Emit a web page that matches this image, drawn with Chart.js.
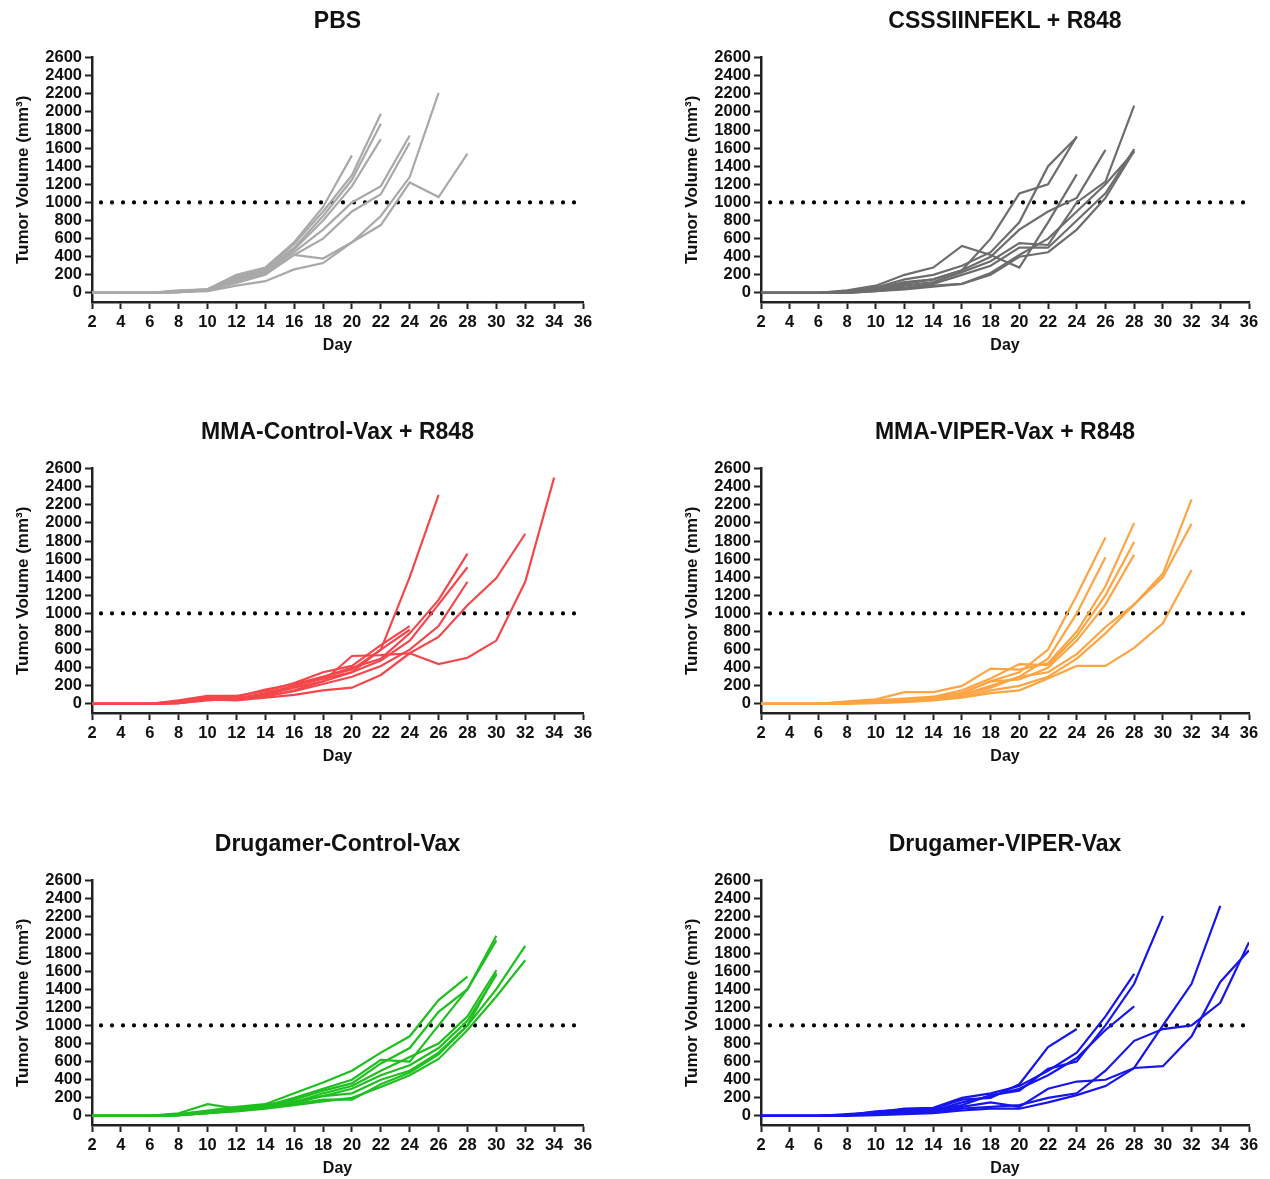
<!DOCTYPE html>
<html>
<head>
<meta charset="utf-8">
<script src="https://cdn.jsdelivr.net/npm/chart.js@4.4.1/dist/chart.umd.min.js"></script>
<style>
  html, body { margin: 0; padding: 0; background: #fff; width: 1270px; height: 1179px; overflow: hidden; }
  canvas { position: absolute; }
</style>
</head>
<body>
<canvas id="c0" width="600" height="356" style="left:0px;top:0px"></canvas>
<canvas id="c1" width="597" height="356" style="left:669px;top:0px"></canvas>
<canvas id="c2" width="600" height="356" style="left:0px;top:411px"></canvas>
<canvas id="c3" width="597" height="356" style="left:669px;top:411px"></canvas>
<canvas id="c4" width="600" height="356" style="left:0px;top:823px"></canvas>
<canvas id="c5" width="597" height="356" style="left:669px;top:823px"></canvas>
<script>
// days of measurement (x), one value per day for each mouse, line stops when the mouse leaves the study
const days = [2, 4, 6, 8, 10, 12, 14, 16, 18, 20, 22, 24, 26, 28, 30, 32, 34, 36];
const threshold = 1000;
const yTicks = [0, 200, 400, 600, 800, 1000, 1200, 1400, 1600, 1800, 2000, 2200, 2400, 2600];

const titles = [
  "PBS",
  "CSSSIINFEKL + R848",
  "MMA-Control-Vax + R848",
  "MMA-VIPER-Vax + R848",
  "Drugamer-Control-Vax",
  "Drugamer-VIPER-Vax"
];
const colors = ["#a9a9a9", "#6d6d6d", "#f5474b", "#ffa443", "#1fbf1f", "#1616ec"];

const pbs = [
  [0, 0, 0, 30, 40, 200, 280, 560, 950, 1520],
  [0, 0, 0, 20, 40, 180, 260, 540, 900, 1300, 1980],
  [0, 0, 0, 20, 30, 160, 250, 500, 850, 1250, 1870],
  [0, 0, 0, 10, 30, 150, 230, 480, 800, 1180, 1700],
  [0, 0, 0, 20, 40, 140, 240, 450, 700, 1000, 1180, 1740],
  [0, 0, 0, 10, 30, 120, 220, 420, 600, 900, 1090, 1660],
  [0, 0, 0, 10, 30, 110, 200, 420, 380, 560, 850, 1280, 2210],
  [0, 0, 0, 10, 20, 80, 130, 260, 330, 560, 750, 1220, 1060, 1540]
];
const csss = [
  [0, 0, 0, 10, 50, 120, 150, 250, 600, 1100, 1200, 1730],
  [0, 0, 0, 20, 60, 150, 200, 300, 450, 780, 1400, 1720],
  [0, 0, 0, 30, 80, 200, 280, 520, 420, 280, 780, 1310],
  [0, 0, 0, 10, 40, 100, 150, 250, 400, 700, 900, 1050, 1580],
  [0, 0, 0, 10, 30, 80, 120, 230, 350, 550, 530, 1000, 1230, 2070],
  [0, 0, 0, 10, 30, 60, 100, 200, 300, 500, 500, 800, 1100, 1590],
  [0, 0, 0, 0, 20, 50, 80, 100, 200, 400, 450, 700, 1050, 1570],
  [0, 0, 0, 0, 20, 40, 70, 100, 220, 420, 600, 900, 1200, 1560]
];
const mmaControl = [
  [0, 0, 0, 20, 60, 50, 100, 180, 250, 350, 600, 1400, 2310],
  [0, 0, 0, 10, 40, 60, 80, 150, 250, 530, 540, 560, 440, 510, 700, 1350, 2500],
  [0, 0, 0, 10, 50, 40, 70, 100, 150, 180, 320, 560, 740, 1090, 1390, 1880],
  [0, 0, 0, 30, 80, 80, 160, 220, 300, 400, 500, 780, 1150, 1660],
  [0, 0, 0, 20, 70, 60, 120, 200, 280, 350, 480, 700, 1100, 1510],
  [0, 0, 0, 10, 50, 50, 90, 140, 220, 300, 420, 600, 860, 1350],
  [0, 0, 0, 40, 90, 90, 140, 230, 350, 420, 650, 860],
  [0, 0, 0, 20, 60, 70, 100, 200, 300, 380, 600, 820]
];
const mmaViper = [
  [0, 0, 0, 20, 30, 40, 60, 120, 250, 350, 600, 1200, 1840],
  [0, 0, 0, 10, 30, 40, 60, 100, 200, 300, 500, 1000, 1620],
  [0, 0, 0, 30, 50, 130, 130, 200, 390, 380, 450, 800, 1300, 2000],
  [0, 0, 0, 20, 40, 60, 80, 150, 280, 440, 430, 750, 1200, 1790],
  [0, 0, 0, 10, 30, 50, 70, 120, 250, 270, 400, 700, 1100, 1650],
  [0, 0, 0, 10, 20, 40, 60, 100, 180, 300, 350, 550, 850, 1100, 1440, 2260],
  [0, 0, 0, 10, 20, 30, 50, 80, 150, 200, 300, 500, 780, 1100, 1400, 1990],
  [0, 0, 0, 0, 10, 20, 40, 70, 120, 150, 280, 420, 420, 620, 890, 1480]
];
const drugControl = [
  [0, 0, 0, 20, 60, 100, 130, 250, 370, 500, 700, 880, 1280, 1540],
  [0, 0, 0, 30, 130, 80, 110, 200, 300, 400, 620, 600, 1000, 1400, 1990],
  [0, 0, 0, 20, 50, 90, 120, 180, 280, 360, 580, 750, 1150, 1400, 1940],
  [0, 0, 0, 10, 40, 70, 100, 150, 250, 330, 500, 650, 800, 1100, 1610],
  [0, 0, 0, 10, 30, 60, 90, 140, 220, 300, 450, 560, 750, 1050, 1560],
  [0, 0, 0, 10, 40, 70, 110, 160, 220, 250, 400, 500, 700, 1000, 1400, 1880],
  [0, 0, 0, 10, 30, 50, 80, 120, 160, 200, 320, 450, 630, 950, 1320, 1720],
  [0, 0, 0, 10, 30, 60, 90, 130, 180, 180, 350, 480, 680, 1000, 1580]
];
const drugViper = [
  [0, 0, 0, 10, 50, 70, 80, 180, 200, 350, 760, 960],
  [0, 0, 0, 20, 40, 80, 90, 200, 250, 330, 500, 700, 1100, 1570],
  [0, 0, 0, 10, 30, 60, 60, 150, 220, 300, 450, 640, 950, 1210],
  [0, 0, 0, 10, 30, 50, 70, 120, 230, 280, 520, 600, 1000, 1460, 2210],
  [0, 0, 0, 10, 20, 40, 50, 100, 150, 100, 300, 380, 400, 530, 1000, 1460, 2320],
  [0, 0, 0, 10, 20, 30, 40, 80, 100, 120, 200, 250, 500, 830, 960, 1000, 1250, 1920],
  [0, 0, 0, 0, 10, 20, 30, 60, 80, 80, 150, 230, 330, 530, 550, 880, 1480, 1830]
];

const groups = [pbs, csss, mmaControl, mmaViper, drugControl, drugViper];

const FONT = "'Liberation Sans', Arial, sans-serif";
const INK = "#111";

function makeChart(idx) {
  const ctx = document.getElementById("c" + idx);
  const datasets = groups[idx].map(vals => ({
    data: vals.map((v, i) => ({ x: days[i], y: v })),
    borderColor: colors[idx],
    borderWidth: 2.2,
    pointRadius: 0,
    tension: 0,
    fill: false
  }));
  // dotted 1000 mm3 endpoint line
  datasets.push({
    data: [{ x: days[0], y: threshold }, { x: days[days.length - 1], y: threshold }],
    borderColor: "#000",
    borderWidth: 4.2,
    borderDash: [0, 11],
    borderDashOffset: 2,
    borderCapStyle: "round",
    pointRadius: 0
  });

  new Chart(ctx, {
    type: "line",
    data: { datasets },
    options: {
      responsive: false,
      animation: false,
      devicePixelRatio: 1,
      layout: { padding: { left: 0, right: 17, top: 0, bottom: 0 } },
      plugins: {
        legend: { display: false },
        tooltip: { enabled: false },
        title: {
          display: true,
          text: titles[idx],
          fullSize: false,
          color: INK,
          font: { family: FONT, size: 23, weight: "bold", lineHeight: 1.2 },
          padding: { top: 8, bottom: 22 }
        }
      },
      scales: {
        x: {
          type: "linear",
          min: days[0],
          max: days[days.length - 1],
          afterFit: s => { s.height = 54; },
          afterBuildTicks: axis => { axis.ticks = days.map(d => ({ value: d })); },
          ticks: {
            color: INK,
            padding: 4,
            maxRotation: 0,
            autoSkip: false,
            callback: v => String(v),
            font: { family: FONT, size: 16.5, weight: "bold" }
          },
          grid: { drawOnChartArea: false, drawTicks: true, tickLength: 7, tickWidth: 2, color: "#222" },
          border: { display: true, color: "#222", width: 2.5 },
          title: {
            display: true,
            text: "Day",
            color: INK,
            font: { family: FONT, size: 16, weight: "bold", lineHeight: 1.2 },
            padding: { top: 0, bottom: 1 }
          }
        },
        y: {
          type: "linear",
          min: -100,
          max: yTicks[yTicks.length - 1],
          afterFit: s => { s.width = 92; },
          afterBuildTicks: axis => { axis.ticks = yTicks.map(v => ({ value: v })); },
          ticks: {
            color: INK,
            padding: 3,
            autoSkip: false,
            callback: v => String(v),
            font: { family: FONT, size: 16.5, weight: "bold" }
          },
          grid: { drawOnChartArea: false, drawTicks: true, tickLength: 7, tickWidth: 2, color: "#222" },
          border: { display: true, color: "#222", width: 2.5 },
          title: {
            display: true,
            text: "Tumor Volume (mm³)",
            color: INK,
            font: { family: FONT, size: 17, weight: "bold", lineHeight: 1.2 },
            padding: { top: 13, bottom: 0 }
          }
        }
      }
    }
  });
}

for (let i = 0; i < groups.length; i++) makeChart(i);
</script>
</body>
</html>
